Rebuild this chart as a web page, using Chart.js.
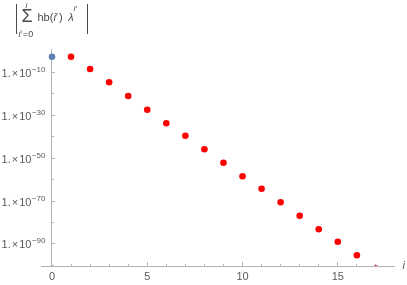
<!DOCTYPE html>
<html><head><meta charset="utf-8">
<script src="https://cdn.jsdelivr.net/npm/chart.js@4.4.1/dist/chart.umd.min.js"></script>
<style>html,body{margin:0;padding:0;background:#fff}#wrap{width:407px;height:285px}</style>
</head><body><div id="wrap"><canvas id="c" width="407" height="285"></canvas></div>
<script>
// ---- data ----
const startIndex = [0];
const startValue = [1.9e-3];
const indices = [1, 2, 3, 4, 5, 6, 7, 8, 9, 10, 11, 12, 13, 14, 15, 16, 17];
const values = [1.9e-3, 3.5e-9, 2.2e-15, 9.1e-22, 3.7e-28, 1.7e-34, 2.9e-40, 1.3e-46, 7.4e-53,
                3.5e-59, 5.8e-65, 2.6e-71, 1.5e-77, 6.9e-84, 1.1e-89, 5.2e-96, 3.2e-102];
const xMajorTicks = [0, 5, 10, 15];
const xMinorTicks = [1, 2, 3, 4, 6, 7, 8, 9, 11, 12, 13, 14, 16, 17];
const yMajorTicks = [1e-10, 1e-30, 1e-50, 1e-70, 1e-90];
const yMinorTicks = [1e-20, 1e-40, 1e-60, 1e-80, 1e-100];
const xRange = [-0.54, 17.95];
const yRange = [5.5e-101, 7.2];

// ---- style ----
const FONT = '"Liberation Sans", Arial, sans-serif';
const axisColor = '#b3b3b3';
const labelColor = '#5a5a5a';
const titleColor = '#4a4a4a';

// y tick labels "1.×10^e", drawn at the positions given by the y scale
const yLabelPlugin = {
  id: 'yLabels',
  afterDraw(chart) {
    const ctx = chart.ctx;
    const ys = chart.scales.y;
    const xAxisPix = chart.scales.x.getPixelForValue(0);
    const right = xAxisPix - 6.5;
    ctx.save();
    ctx.fillStyle = labelColor;
    ctx.textBaseline = 'alphabetic';
    ctx.textAlign = 'left';
    ys.ticks.forEach(t => {
      const py = ys.getPixelForValue(t.value);
      const e = Math.round(Math.log10(t.value));
      const sup = (e < 0 ? '\u2212' : '') + Math.abs(e);
      ctx.font = '11px ' + FONT;
      const w1 = ctx.measureText('1.').width, wx = ctx.measureText('\u00D7').width, w10 = ctx.measureText('10').width;
      ctx.font = '8px ' + FONT;
      const ws = ctx.measureText(sup).width;
      const total = w1 + 1 + wx + 1 + w10 + 0.5 + ws;
      let x = right - total;
      ctx.font = '11px ' + FONT;
      ctx.fillText('1.', x, py + 4.5); x += w1 + 1;
      ctx.fillText('\u00D7', x, py + 4.5); x += wx + 1;
      ctx.fillText('10', x, py + 4.5); x += w10 + 0.5;
      ctx.font = '8px ' + FONT;
      ctx.fillText(sup, x, py - 0.5);
    });
    ctx.restore();
  }
};

const titlePlugin = {
  id: 'axisLabels',
  afterDraw(chart) {
    const ctx = chart.ctx;
    ctx.save();
    ctx.fillStyle = titleColor;
    ctx.strokeStyle = titleColor;
    ctx.lineWidth = 1;
    ctx.textBaseline = 'alphabetic';
    ctx.textAlign = 'left';
    // absolute value bars
    ctx.beginPath();
    ctx.moveTo(16.5, 4); ctx.lineTo(16.5, 34);
    ctx.moveTo(87.5, 4); ctx.lineTo(87.5, 34);
    ctx.stroke();
    // sigma
    ctx.font = '18px ' + FONT;
    ctx.fillText('\u03A3', 21.5, 22);
    // upper limit
    ctx.font = 'italic 8px ' + FONT;
    ctx.fillText('i', 25.5, 7.5);
    // lower limit
    ctx.font = 'italic 9px ' + FONT;
    let x = 18.5;
    ctx.fillText('i', x, 36.5); x += ctx.measureText('i').width;
    ctx.font = '9px ' + FONT;
    ctx.fillText('\u2032', x, 36.5); x += ctx.measureText('\u2032').width + 0.5;
    ctx.fillText('=', x, 36.5); x += ctx.measureText('=').width + 0.3;
    ctx.fillText('0', x, 36.5);
    // hb(i')
    ctx.font = '11px ' + FONT;
    x = 37.5;
    ctx.fillText('hb(', x, 21); x += ctx.measureText('hb(').width;
    ctx.font = 'italic 11px ' + FONT;
    ctx.fillText('i', x, 21); x += ctx.measureText('i').width;
    ctx.font = '11px ' + FONT;
    ctx.fillText('\u2032', x, 21); x += ctx.measureText('\u2032').width + 1;
    ctx.fillText(')', x, 21);
    // lambda^{i'}
    ctx.font = 'italic 11px ' + FONT;
    ctx.fillText('\u03BB', 68.3, 21);
    ctx.font = 'italic 8px ' + FONT;
    ctx.fillText('i', 73.5, 11);
    ctx.font = '8px ' + FONT;
    ctx.fillText('\u2032', 75.5, 11);
    // x axis label
    ctx.fillStyle = labelColor;
    ctx.font = 'italic 11px ' + FONT;
    ctx.fillText('i', 402.5, 269);
    ctx.restore();
  }
};

new Chart(document.getElementById('c'), {
  type: 'scatter',
  data: {
    datasets: [
      { data: startIndex.map((v, i) => ({x: v, y: startValue[i]})),
        backgroundColor: '#5e81b5', borderWidth: 0, pointRadius: 3.3, pointHoverRadius: 3.3 },
      { data: indices.map((v, i) => ({x: v, y: values[i]})),
        backgroundColor: '#ff0000', borderWidth: 0, pointRadius: 3.3, pointHoverRadius: 3.3 }
    ]
  },
  options: {
    responsive: false,
    animation: false,
    devicePixelRatio: 1,
    layout: { padding: { left: 41.7, right: 13, top: 49, bottom: 0 } },
    plugins: { legend: { display: false }, tooltip: { enabled: false }, title: { display: false } },
    scales: {
      x: {
        type: 'linear', position: 'bottom', min: xRange[0], max: xRange[1],
        afterBuildTicks: s => { s.ticks = xMajorTicks.map(v => ({value: v})); },
        afterFit: s => { s.height = 19; },
        border: { color: axisColor, width: 1 },
        grid: { drawOnChartArea: false, tickLength: -4, tickColor: axisColor, tickWidth: 1 },
        ticks: { padding: 8, color: labelColor, font: { family: FONT, size: 11 }, maxRotation: 0, autoSkip: false,
                 callback: v => String(v) }
      },
      xMinor: {
        type: 'linear', position: { y: yRange[0] }, min: xRange[0], max: xRange[1],
        afterBuildTicks: s => { s.ticks = xMinorTicks.map(v => ({value: v})); },
        border: { display: false },
        grid: { drawOnChartArea: false, tickLength: -2, tickColor: axisColor, tickWidth: 1 },
        ticks: { display: false }
      },
      y: {
        type: 'logarithmic', position: { x: 0 }, min: yRange[0], max: yRange[1],
        afterBuildTicks: s => { s.ticks = yMajorTicks.map(v => ({value: v})); },
        border: { color: axisColor, width: 1 },
        grid: { drawOnChartArea: false, tickLength: -4, tickColor: axisColor, tickWidth: 1 },
        ticks: { display: false }
      },
      yMinor: {
        type: 'logarithmic', position: { x: 0 }, min: yRange[0], max: yRange[1],
        afterBuildTicks: s => { s.ticks = yMinorTicks.map(v => ({value: v})); },
        border: { display: false },
        grid: { drawOnChartArea: false, tickLength: -2, tickColor: axisColor, tickWidth: 1 },
        ticks: { display: false }
      }
    }
  },
  plugins: [yLabelPlugin, titlePlugin]
});
</script></body></html>
